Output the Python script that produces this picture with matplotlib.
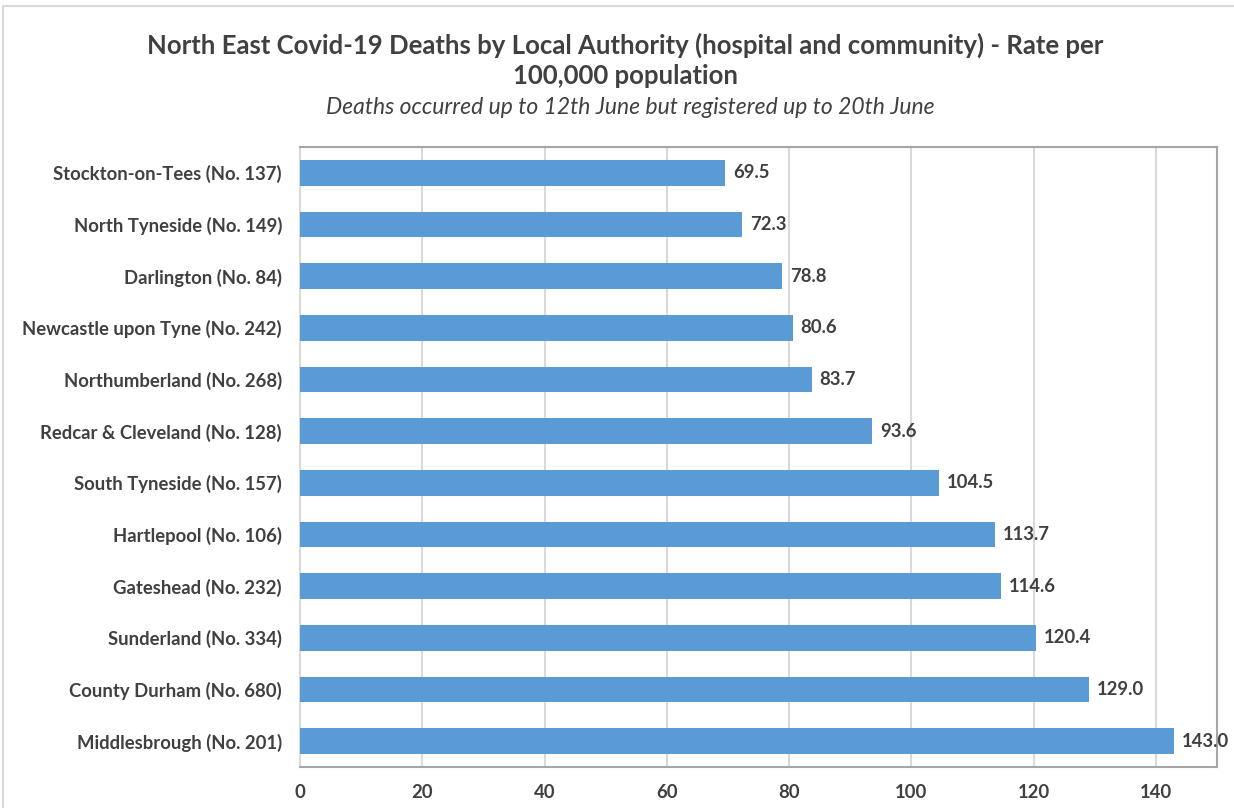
import matplotlib
matplotlib.use("Agg")
from matplotlib import pyplot as plt
from matplotlib.patches import Rectangle

plt.rcParams['font.family'] = ['Lato', 'DejaVu Sans']

authorities = ["Stockton-on-Tees (No. 137)", "North Tyneside (No. 149)",
               "Darlington (No. 84)", "Newcastle upon Tyne (No. 242)",
               "Northumberland (No. 268)", "Redcar & Cleveland (No. 128)",
               "South Tyneside (No. 157)", "Hartlepool (No. 106)",
               "Gateshead (No. 232)", "Sunderland (No. 334)",
               "County Durham (No. 680)", "Middlesbrough (No. 201)"]
rates = [69.5, 72.3, 78.8, 80.6, 83.7, 93.6, 104.5, 113.7, 114.6, 120.4, 129.0, 143.0]
xticks = [0, 20, 40, 60, 80, 100, 120, 140]

text_col = '#404040'
bar_col = '#5b9bd5'

fig = plt.figure(figsize=(12.34, 8.08), dpi=100)
ax = fig.add_axes([300/1234, 1 - 767/808, (1217 - 300)/1234, (767 - 147)/808])

ypos = list(range(len(authorities)))
ax.barh(ypos, rates, height=0.5, color=bar_col, zorder=3)
ax.set_ylim(len(authorities) - 0.5, -0.5)
ax.set_xlim(0, 150)
ax.set_yticks(ypos)
ax.set_yticklabels(authorities, fontsize=13.3, fontweight='bold', color=text_col)
ax.set_xticks(xticks)
ax.set_xticklabels([str(t) for t in xticks], fontsize=13.3, fontweight='bold', color=text_col)
ax.tick_params(axis='both', length=0)
ax.tick_params(axis='y', pad=13)
ax.tick_params(axis='x', pad=12)
ax.grid(axis='x', color='#d9d9d9', linewidth=1.5, zorder=0)

for side in ['top', 'right', 'bottom']:
    ax.spines[side].set_color('#a6a6a6')
    ax.spines[side].set_linewidth(1.5)
ax.spines['left'].set_color('#d9d9d9')
ax.spines['left'].set_linewidth(1.5)

# value labels at the end of each bar
for y, v in zip(ypos, rates):
    ax.text(v + 1.3, y, f"{v:.1f}", va='center', ha='left', fontsize=13.3,
            fontweight='bold', color=text_col, zorder=4)

fig.text(0.507, 1 - 45/808, "North East Covid-19 Deaths by Local Authority (hospital and community) - Rate per",
         ha='center', va='center', fontsize=18.5, fontweight='bold', color=text_col)
fig.text(0.507, 1 - 76/808, "100,000 population",
         ha='center', va='center', fontsize=18.5, fontweight='bold', color=text_col)
fig.text(0.511, 1 - 108/808, "Deaths occurred up to 12th June but registered up to 20th June",
         ha='center', va='center', fontsize=16.5, style='italic', color=text_col)

# outer chart frame
fig.patches.append(Rectangle((3/1234, -0.01), 1.02, 1 - 6/808 + 0.01,
                             transform=fig.transFigure, fill=False,
                             edgecolor='#d9d9d9', linewidth=1.5))

fig.savefig("out.png", dpi=100)
